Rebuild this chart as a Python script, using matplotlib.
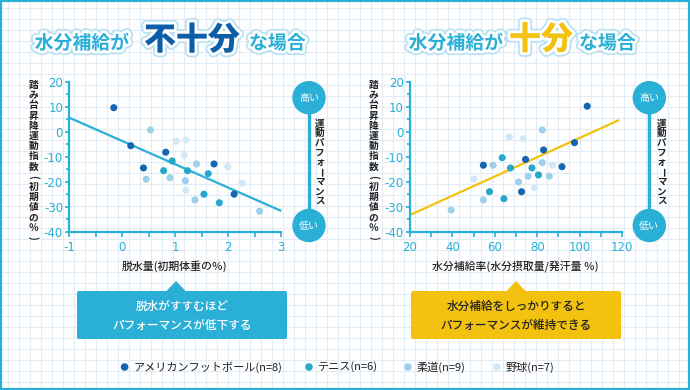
import matplotlib
matplotlib.use("Agg")
import matplotlib.pyplot as plt
from matplotlib.patches import Circle, FancyBboxPatch, Polygon, Rectangle
import matplotlib.patheffects as pe

plt.rcParams['font.family'] = ['Noto Sans CJK JP', 'DejaVu Sans']
plt.rcParams['axes.unicode_minus'] = False

# ---------------- data ----------------
sports = ["アメリカンフットボール(n=8)", "テニス(n=6)", "柔道(n=9)", "野球(n=7)"]
sport_colors = ["#1565b0", "#27a8cb", "#9ed0ec", "#d2e8f6"]

# left: dehydration (% of initial body mass) vs step-test index (% of initial)
left_x = [
    [-0.16, 0.16, 0.82, 1.73, 0.40, 2.11],
    [0.94, 0.78, 1.23, 1.62, 1.54, 1.83],
    [0.53, 1.40, 0.45, 0.90, 1.19, 1.37, 2.59],
    [1.02, 1.20, 1.17, 1.99, 2.26, 1.20],
]
left_y = [
    [9.6, -5.6, -8.2, -12.9, -14.5, -25.0],
    [-11.7, -15.6, -15.6, -16.8, -25.0, -28.4],
    [0.7, -12.9, -19.0, -18.4, -19.6, -27.3, -31.8],
    [-3.8, -3.3, -9.4, -14.0, -20.6, -23.4],
]
left_trend_x = [-1, 3]
left_trend_y = [5.6, -31.7]

# right: rehydration rate (intake / sweat %) vs step-test index
right_x = [
    [103.6, 97.6, 83.0, 74.5, 54.6, 91.7, 72.6],
    [63.5, 67.4, 77.5, 80.6, 57.5, 64.3],
    [82.4, 59.2, 82.4, 75.7, 85.7, 71.2, 54.6, 39.4],
    [66.8, 73.4, 87.2, 50.2, 78.7],
]
right_y = [
    [10.2, -4.4, -7.3, -11.1, -13.4, -14.0, -24.0],
    [-10.4, -14.5, -14.5, -17.3, -24.0, -26.8],
    [0.7, -13.4, -12.4, -17.8, -17.8, -20.1, -27.3, -31.3],
    [-2.1, -2.8, -13.4, -18.9, -22.4],
]
right_trend_x = [20, 118.7]
right_trend_y = [-33.3, 4.7]

left_xticks = [-1, 0, 1, 2, 3]
right_xticks = [20, 40, 60, 80, 100, 120]
yticks = [-40, -30, -20, -10, 0, 10, 20]

ylabel = "踏み台昇降運動指数(初期値の％)"
left_xlabel = "脱水量(初期体重の％)"
right_xlabel = "水分補給率(水分摂取量/発汗量 ％)"
perf_label = "運動パフォーマンス"
left_msg = "脱水がすすむほど\nパフォーマンスが低下する"
right_msg = "水分補給をしっかりすると\nパフォーマンスが維持できる"

CYAN = "#2aafd7"
YELLOW = "#f2c20f"
DARKBLUE = "#0c5ea8"
TEXT = "#222222"

W, H = 690, 390
fig = plt.figure(figsize=(W / 100, H / 100), dpi=100)
fig.patch.set_facecolor("white")

# background axes in pixel coordinates
bg = fig.add_axes([0, 0, 1, 1], zorder=-5)
bg.set_xlim(0, W)
bg.set_ylim(H, 0)
bg.axis("off")

for gx in range(8, W, 11):
    bg.plot([gx + 0.3, gx + 0.3], [0, H], color="#e2ecf7", lw=0.8, zorder=0)
for gy in range(8, H, 11):
    bg.plot([0, W], [gy, gy], color="#e2ecf7", lw=0.8, zorder=0)
bg.add_patch(Rectangle((1, 1), W - 2, H - 2, fill=False, ec=CYAN, lw=1.6, zorder=1))

# ---------------- titles ----------------
glow = [pe.withStroke(linewidth=6.5, foreground="#b9e1f3"), pe.withStroke(linewidth=4, foreground="white")]
small_kw = dict(fontsize=13.6, fontweight="bold", color=CYAN, va="center", path_effects=glow, zorder=5)
big_kw = dict(fontsize=23, fontweight="black", va="center", ha="center", path_effects=glow, zorder=5)

bg.text(129, 43.5, "水分補給が", ha="right", **small_kw)
bg.text(192, 40, "不十分", color=DARKBLUE, **big_kw)
bg.text(249, 43.5, "な場合", ha="left", **small_kw)

bg.text(503, 43.5, "水分補給が", ha="right", **small_kw)
bg.text(541, 39.5, "十分", color=YELLOW, **big_kw)
bg.text(579, 43.5, "な場合", ha="left", **small_kw)


def vtext(x, y0, step, chars, **kw):
    for i, c in enumerate(chars):
        rot = -90 if c in "()ー" else 0
        bg.text(x, y0 + i * step, c, rotation=rot, ha="center", va="center",
                rotation_mode="anchor", **kw)


# ---------------- charts ----------------
def make_chart(left_px, xs, ys, tx, ty, tcolor, xlim, xticks, xminor, xlabel, ylab_x, xlabel_x):
    ax = fig.add_axes([left_px / W, 1 - 231.7 / H, 212 / W, 150 / H])
    ax.patch.set_alpha(0)
    for s in ["top", "right"]:
        ax.spines[s].set_visible(False)
    for s in ["left", "bottom"]:
        ax.spines[s].set_color(CYAN)
        ax.spines[s].set_linewidth(1.6)
    ax.set_xlim(*xlim)
    ax.set_ylim(-40, 20)
    ax.set_xticks(xticks)
    ax.set_xticks(xminor, minor=True)
    ax.set_yticks(yticks)
    ax.set_yticks(range(-35, 20, 10), minor=True)
    ax.tick_params(axis="both", which="both", colors=CYAN, width=1.2)
    ax.tick_params(axis="y", which="major", length=3, pad=1.5, labelsize=8.5)
    ax.tick_params(axis="y", which="minor", length=2.5)
    ax.tick_params(axis="x", which="major", length=3.5, pad=3, labelsize=8.5)
    ax.tick_params(axis="x", which="minor", length=3.5)
    for lab in ax.get_xticklabels() + ax.get_yticklabels():
        lab.set_color(CYAN)
        lab.set_fontfamily(["Liberation Sans Narrow", "DejaVu Sans"])
    for i in range(len(xs)):
        ax.scatter(xs[i], ys[i], s=26, color=sport_colors[i], edgecolors="none", zorder=3 - i * 0.1, clip_on=False)
    ax.plot(tx, ty, color=tcolor, lw=1.6, zorder=2, solid_capstyle="butt", clip_on=False)
    vtext(ylab_x, 85, 10.2, list(ylabel), fontsize=7.0, fontweight="bold", color=TEXT)
    bg.text(xlabel_x, 266, xlabel, ha="center", va="center", fontsize=7.8, color=TEXT, fontweight="medium")
    return ax


make_chart(69.3, left_x, left_y, left_trend_x, left_trend_y, CYAN, (-1, 3),
           left_xticks, [-0.5, 0.5, 1.5, 2.5], left_xlabel, 33.3, 174)
make_chart(410, right_x, right_y, right_trend_x, right_trend_y, YELLOW, (20, 120),
           right_xticks, [30, 50, 70, 90, 110], right_xlabel, 373.5, 515)

# ---------------- performance indicators ----------------
for cx, tx_ in [(309, 320), (649.3, 661.7)]:
    bg.plot([cx, cx], [98, 225], color=CYAN, lw=2.4, zorder=2)
    for cy, t in [(97.7, "高い"), (225.5, "低い")]:
        bg.add_patch(Circle((cx, cy), 16, color=CYAN, zorder=3))
        bg.text(cx, cy, t, ha="center", va="center", fontsize=7.2, color="white", zorder=4)
    vtext(tx_, 123.5, 9.7, list(perf_label), fontsize=6.9, fontweight="bold", color=TEXT)

# ---------------- callouts ----------------
for x0, x1, apex, fc, msg, tc in [(77, 287, 176, CYAN, left_msg, "white"),
                                  (411, 621, 516, YELLOW, right_msg, TEXT)]:
    bg.add_patch(FancyBboxPatch((x0, 291), x1 - x0, 48, boxstyle="round,pad=0,rounding_size=2",
                                fc=fc, ec="none", zorder=3))
    bg.add_patch(Polygon([(apex - 10, 291.5), (apex, 281), (apex + 10, 291.5)], closed=True,
                         fc=fc, ec="none", zorder=3))
    bg.text((x0 + x1) / 2, 316, msg, ha="center", va="center", fontsize=8.4, color=tc,
            linespacing=1.55, zorder=4, fontweight="medium")

# ---------------- legend ----------------
leg_dot_x = [124.6, 309, 408, 497]
for i, (lx, name) in enumerate(zip(leg_dot_x, sports)):
    bg.scatter([lx], [367], s=30, color=sport_colors[i], edgecolors="none", zorder=4)
    bg.text(lx + 9, 367, name, ha="left", va="center", fontsize=8, color=TEXT, zorder=4)

fig.savefig("out.png", dpi=100)
